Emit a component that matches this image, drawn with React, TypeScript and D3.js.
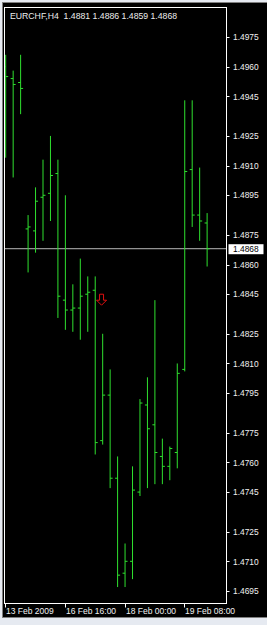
import React from "react";
import * as d3 from "d3";

const symbolLabel = "EURCHF,H4";
const lastOHLC = ["1.4881", "1.4886", "1.4859", "1.4868"];

const opens = [1.4960, 1.4954, 1.4952, 1.4878, 1.4877, 1.4894, 1.4896, 1.4906, 1.4842, 1.4837, 1.4838, 1.4845, 1.4847, 1.4771, 1.4794, 1.4752, 1.4704, 1.4710, 1.4745, 1.4789, 1.4779, 1.4763, 1.4758, 1.4765, 1.4807, 1.4908, 1.4885, 1.4881];
const highs = [1.4966, 1.4958, 1.4966, 1.4885, 1.4899, 1.4913, 1.4925, 1.4913, 1.4895, 1.4850, 1.4863, 1.4854, 1.4854, 1.4825, 1.4807, 1.4763, 1.4719, 1.4758, 1.4792, 1.4803, 1.4842, 1.4772, 1.4768, 1.4810, 1.4943, 1.4943, 1.4909, 1.4886];
const lows = [1.4914, 1.4904, 1.4936, 1.4856, 1.4866, 1.4872, 1.4882, 1.4833, 1.4827, 1.4826, 1.4822, 1.4826, 1.4764, 1.4769, 1.4747, 1.4697, 1.4697, 1.4701, 1.4743, 1.4747, 1.4749, 1.4749, 1.4751, 1.4757, 1.4806, 1.4879, 1.4872, 1.4859];
const closes = [1.4955, 1.4951, 1.4949, 1.4879, 1.4892, 1.4895, 1.4905, 1.4844, 1.4837, 1.4838, 1.4844, 1.4846, 1.4770, 1.4794, 1.4752, 1.4703, 1.4710, 1.4746, 1.4790, 1.4777, 1.4765, 1.4758, 1.4767, 1.4805, 1.4907, 1.4885, 1.4882, 1.4868];

const priceTicks = ["1.4975", "1.4960", "1.4945", "1.4925", "1.4910", "1.4895", "1.4875", "1.4860", "1.4845", "1.4825", "1.4810", "1.4795", "1.4775", "1.4760", "1.4745", "1.4725", "1.4710", "1.4695"];
const timeTickIndex = [0, 8, 16, 24];
const timeTickLabels = ["13 Feb 2009", "16 Feb 16:00", "18 Feb 00:00", "19 Feb 08:00"];
const currentPrice = 1.4868;
const arrowBar = 12.85;
const arrowPrice = 1.4845;

const W = 267;
const H = 625;
const FONT = "'Liberation Sans', Arial, sans-serif";

export default function App() {
  const x = d3.scaleLinear().domain([0, 27]).range([5.7, 5.7 + 27 * 7.46]);
  const y = d3.scaleLinear().domain([1.4695, 1.4975]).range([591, 37]);
  const plot = { l: 4.5, t: 7.5, r: 226.5, b: 603.5 };
  const barColor = "#2fe02f";
  const tick = 2.5;

  const yc = y(currentPrice);
  const ax = x(arrowBar);
  const ay = y(arrowPrice);

  return (
    <div style={{ position: "fixed", left: 0, top: 0, width: W, height: H }}>
      <svg width={W} height={H} style={{ display: "block" }}>
        <rect x={0} y={0} width={W} height={H} fill="#e6eaf1" />
        <rect x={2} y={2} width={W - 2} height={616} fill="#808080" />
        <rect x={3} y={3} width={W - 3} height={614} fill="#000" />
        <clipPath id="plotclip">
          <rect x={plot.l} y={plot.t} width={plot.r - plot.l} height={plot.b - plot.t} />
        </clipPath>
        <g clipPath="url(#plotclip)">
          <line x1={plot.l} x2={plot.r} y1={yc} y2={yc} stroke="#b8b8b8" strokeWidth={1} />
          {opens.map((o, i) => {
            const cx = x(i);
            return (
              <g key={i} stroke={barColor} strokeWidth={1}>
                <line x1={cx} x2={cx} y1={y(highs[i])} y2={y(lows[i])} />
                <line x1={cx - tick} x2={cx} y1={y(o)} y2={y(o)} />
                <line x1={cx} x2={cx + tick} y1={y(closes[i])} y2={y(closes[i])} />
              </g>
            );
          })}
          <path
            d={`M${ax - 2},${ay} H${ax + 2} V${ay + 6} H${ax + 5} L${ax},${ay + 11} L${ax - 5},${ay + 6} H${ax - 2} Z`}
            fill="none"
            stroke="#e01010"
            strokeWidth={1}
          />
        </g>
        <rect x={plot.l} y={plot.t} width={plot.r - plot.l} height={plot.b - plot.t} fill="none" stroke="#ffffff" strokeWidth={1} />
        <text x={10} y={19} fill="#ececec" fontFamily={FONT} fontSize={8.7} style={{ whiteSpace: "pre" }}>
          {symbolLabel + "  " + lastOHLC.join(" ")}
        </text>
        {priceTicks.map((t) => {
          const ty = y(+t);
          return (
            <g key={t}>
              <line x1={plot.r} x2={plot.r + 3} y1={Math.round(ty) + 0.5} y2={Math.round(ty) + 0.5} stroke="#fff" />
              <text x={233} y={ty + 3.2} fill="#f0f0f0" fontFamily={FONT} fontSize={8.4}>{t}</text>
            </g>
          );
        })}
        <rect x={228.5} y={yc - 4.5} width={35} height={10} fill="#fff" />
        <text x={233} y={yc + 3.5} fill="#000" fontFamily={FONT} fontSize={8.4}>{currentPrice.toFixed(4)}</text>
        {timeTickIndex.map((ti, k) => {
          const tx = Math.round(x(ti) - 0.5) + 0.5;
          return (
            <g key={ti}>
              <line x1={tx} x2={tx} y1={plot.b} y2={plot.b + 4} stroke="#fff" />
              <text x={tx + 0.5} y={614} fill="#f0f0f0" fontFamily={FONT} fontSize={8.5}>{timeTickLabels[k]}</text>
            </g>
          );
        })}
      </svg>
    </div>
  );
}
